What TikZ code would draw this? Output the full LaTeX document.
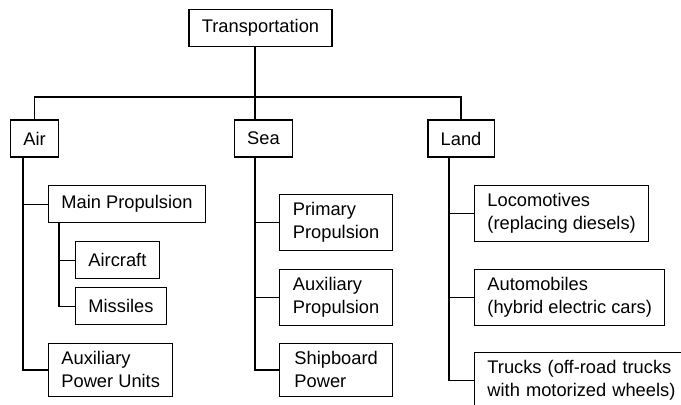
\documentclass[tikz,border=0pt]{standalone}
\usepackage{fontspec}
\setmainfont{Liberation Sans}

\begin{document}
\begin{tikzpicture}[x=0.025cm,y=-0.025cm,line width=0.9pt,
  box/.style={rectangle,draw,align=left,inner xsep=0.32cm,inner ysep=0.2cm,
    minimum height=0.925cm,font=\fontsize{13}{16.4}\selectfont},
  nw box/.style={box,anchor=north west}]
  \useasboundingbox (0,0) rectangle (681,404);
  \clip (0,0) rectangle (681,404);

  \node[box] (transp) at (260.5,28) {Transportation};
  \node[box] (air) at (34.5,138.5) {Air};
  \node[box] (sea) at (263.5,138.5) {Sea};
  \node[box] (land) at (461,138.5) {Land};

  % air
  \node[nw box] (mainprop) at (48,185) {Main Propulsion};
  \node[nw box] (aircraft) at (75,241) {Aircraft};
  \node[nw box] (missiles) at (75,287) {Missiles};
  \node[nw box] (apu) at (48,343) {Auxiliary\\Power Units};

  % sea
  \node[nw box, minimum width=2.825cm] (primprop) at (279,194) {Primary\\Propulsion};
  \node[nw box, minimum width=2.825cm] (auxprop) at (279,269) {Auxiliary\\Propulsion};
  \node[nw box, minimum width=2.825cm] (shipboard) at (279,343) {Shipboard\\Power};

  % land
  \node[nw box] (loco) at (474,185) {Locomotives\\(replacing diesels)};
  \node[nw box] (auto) at (474,269) {Automobiles\\(hybrid electric cars)};
  \node[nw box, text width=6cm] (trucks) at (474,352) {Trucks (off-road trucks\\with motorized wheels)};

  \coordinate (bus) at (255,97);
  \coordinate (airspine) at (23,0);
  \coordinate (mpspine) at (59,0);
  \coordinate (landspine) at (449,0);

  \draw (transp.south -| bus) -- (sea.north -| bus);
  \draw (air.north) |- (bus) -| (land.north);

  \draw (air.south -| airspine) |- (apu.west)
        (mainprop.west) -- (mainprop.west -| airspine);
  \draw (mainprop.south -| mpspine) |- (missiles.west)
        (aircraft.west) -- (aircraft.west -| mpspine);
  \draw (sea.south -| bus) |- (shipboard.west)
        (primprop.west) -- (primprop.west -| bus)
        (auxprop.west) -- (auxprop.west -| bus);
  \draw (land.south -| landspine) |- (trucks.west)
        (loco.west) -- (loco.west -| landspine)
        (auto.west) -- (auto.west -| landspine);
\end{tikzpicture}
\end{document}
